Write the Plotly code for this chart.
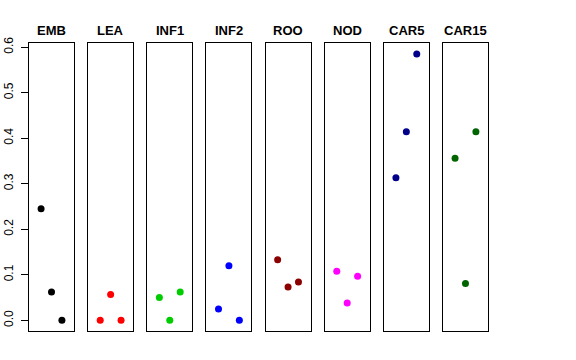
import plotly.graph_objects as go

tissues = ["EMB", "LEA", "INF1", "INF2", "ROO", "NOD", "CAR5", "CAR15"]
colors = ["#000000", "#FF0000", "#00CD00", "#0000FF", "#8B0000", "#FF00FF", "#00008B", "#006400"]
x_pos = [1, 2, 3]
EMB = [0.245, 0.062, 0.0]
LEA = [0.0, 0.057, 0.0]
INF1 = [0.050, 0.0, 0.062]
INF2 = [0.025, 0.120, 0.0]
ROO = [0.133, 0.073, 0.084]
NOD = [0.108, 0.038, 0.097]
CAR5 = [0.313, 0.414, 0.585]
CAR15 = [0.356, 0.081, 0.414]
values = [EMB, LEA, INF1, INF2, ROO, NOD, CAR5, CAR15]
y_ticks = [0.0, 0.1, 0.2, 0.3, 0.4, 0.5, 0.6]

W, H = 576, 360
left0, pitch, pw = 29.0, 59.14, 45.0
top_px, bot_px = 43.3, 331.0

fig = go.Figure()
layout = dict(
    width=W, height=H, margin=dict(l=0, r=0, t=0, b=0, autoexpand=False),
    plot_bgcolor="white", paper_bgcolor="white", showlegend=False,
    font=dict(family="Liberation Sans, Arial, sans-serif", color="black"),
)
annotations = []
for i, (name, col, vals) in enumerate(zip(tissues, colors, values)):
    idx = "" if i == 0 else str(i + 1)
    x0 = (left0 + pitch * i) / W
    x1 = (left0 + pitch * i + pw) / W
    fig.add_trace(go.Scatter(
        x=x_pos, y=vals, mode="markers",
        marker=dict(color=col, size=7, line=dict(width=0)),
        xaxis="x" + idx, yaxis="y" + idx,
    ))
    layout["xaxis" + idx] = dict(
        domain=[x0, x1], range=[-0.16, 4.16], anchor="y" + idx,
        showgrid=False, zeroline=False, showticklabels=False, ticks="",
        showline=True, mirror=True, linecolor="black", linewidth=1,
        automargin=False,
    )
    ya = dict(
        domain=[1 - bot_px / H, 1 - top_px / H], range=[-0.0234, 0.6084],
        anchor="x" + idx, showgrid=False, zeroline=False, automargin=False,
        showline=True, mirror=True, linecolor="black", linewidth=1,
    )
    if i == 0:
        ya.update(ticks="outside", ticklen=7, tickwidth=1, tickcolor="black",
                  tickvals=y_ticks, ticktext=[f"{v:.1f}" for v in y_ticks],
                  tickangle=-90, ticklabelstandoff=3,
                  tickfont=dict(size=12, color="black"))
    else:
        ya.update(showticklabels=False, ticks="")
    layout["yaxis" + idx] = ya
    annotations.append(dict(
        text="<b>" + name + "</b>", x=(x0 + x1) / 2, y=1 - 30 / H,
        xref="paper", yref="paper", showarrow=False,
        xanchor="center", yanchor="middle",
        font=dict(size=13, color="black"),
    ))
layout["annotations"] = annotations
fig.update_layout(**layout)
fig.write_html("out.html", config={"displayModeBar": False},
               post_script="document.body.style.margin='0';document.body.style.overflow='hidden';")
